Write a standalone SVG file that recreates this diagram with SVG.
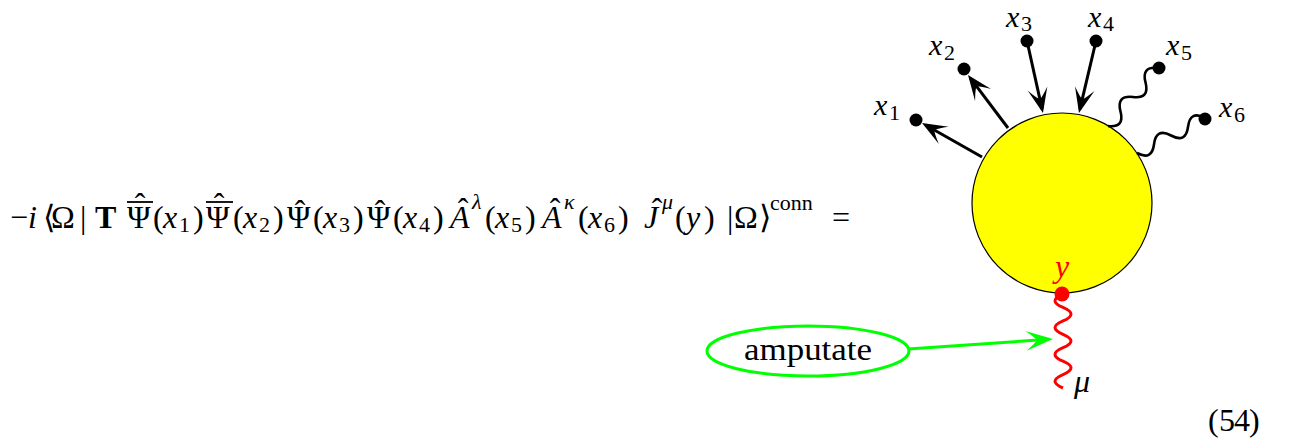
<svg xmlns="http://www.w3.org/2000/svg" width="1292" height="443" viewBox="0 0 1292 443">
<style>
.m{font-family:"Liberation Serif","Times New Roman",serif;font-size:32px;fill:#000}
.lb{font-size:30px}
.it{font-style:italic}
.s{font-size:22px}
.fl{stroke:#000;stroke-width:3;fill:none}
.wv{stroke:#000;stroke-width:2.6;fill:none}
.dot{fill:#000}
</style>
<defs>
<marker id="ab" markerUnits="userSpaceOnUse" orient="auto" refX="0" refY="0" markerWidth="30" markerHeight="30" overflow="visible">
<path d="M4,0 L-21,-10 Q-12,-3 -10,0 Q-12,3 -21,10 Z" fill="#000"/>
</marker>
<marker id="ag" markerUnits="userSpaceOnUse" orient="auto" refX="0" refY="0" markerWidth="30" markerHeight="30" overflow="visible">
<path d="M4,0 L-23,-10 Q-14,-3 -12,0 Q-14,3 -23,10 Z" fill="#00ff00"/>
</marker>
</defs>

<g id="equation">
<text class="m" y="228">
<tspan x="10">−</tspan><tspan x="28" class="it">i</tspan><tspan x="43 51 80">⟨Ω|</tspan><tspan x="95" font-weight="bold">T</tspan><tspan x="127">Ψ</tspan><tspan x="153">(</tspan><tspan x="163" class="it">x</tspan><tspan x="179" y="232" class="s">1</tspan><tspan x="193" y="228">)</tspan><tspan x="206">Ψ</tspan><tspan x="233">(</tspan><tspan x="243" class="it">x</tspan><tspan x="259" y="232" class="s">2</tspan><tspan x="273" y="228">)</tspan><tspan x="287">Ψ</tspan><tspan x="313">(</tspan><tspan x="323" class="it">x</tspan><tspan x="339" y="232" class="s">3</tspan><tspan x="353" y="228">)</tspan><tspan x="367">Ψ</tspan><tspan x="393">(</tspan><tspan x="403" class="it">x</tspan><tspan x="419" y="232" class="s">4</tspan><tspan x="433" y="228">)</tspan><tspan x="450" class="it">A</tspan><tspan x="472" y="209" class="s it">λ</tspan><tspan x="485" y="228">(</tspan><tspan x="495" class="it">x</tspan><tspan x="511" y="232" class="s">5</tspan><tspan x="525" y="228">)</tspan><tspan x="542" class="it">A</tspan><tspan x="564" y="209" class="s it">κ</tspan><tspan x="578" y="228">(</tspan><tspan x="588" class="it">x</tspan><tspan x="604" y="232" class="s">6</tspan><tspan x="618" y="228">)</tspan><tspan x="644" class="it">J</tspan><tspan x="662" y="209" class="s it">μ</tspan><tspan x="675" y="228">(</tspan><tspan x="686" class="it">y</tspan><tspan x="704">)</tspan><tspan x="727 734 759">|Ω⟩</tspan><tspan x="770" y="210" class="s">conn</tspan><tspan x="832" y="228">=</tspan>
</text>
<line x1="127" y1="202" x2="153" y2="202" stroke="#000" stroke-width="1.8"/>
<line x1="206" y1="202" x2="233" y2="202" stroke="#000" stroke-width="1.8"/>
<text class="m" text-anchor="middle" y="215"><tspan x="140">ˆ</tspan><tspan x="219">ˆ</tspan></text>
<text class="m" text-anchor="middle" y="222"><tspan x="300">ˆ</tspan><tspan x="380">ˆ</tspan></text>
<text class="m" text-anchor="middle" y="220"><tspan x="463">ˆ</tspan><tspan x="555">ˆ</tspan><tspan x="657">ˆ</tspan></text>
</g>

<g id="blob">
<circle cx="1062" cy="203" r="90" fill="#ffff00" stroke="#000" stroke-width="1.2"/>
</g>

<g id="connectors">
<line class="fl" x1="982" y1="157" x2="925.5" y2="125" marker-end="url(#ab)"/>
<line class="fl" x1="1008" y1="128" x2="970.4" y2="78.2" marker-end="url(#ab)"/>
<line class="fl" x1="1027" y1="41" x2="1042.1" y2="109.1" marker-end="url(#ab)"/>
<line class="fl" x1="1096" y1="41" x2="1079.9" y2="109.1" marker-end="url(#ab)"/>
<path class="wv" transform="translate(1108,126) rotate(-49.2)" d="M0,0 Q9.57,14 19.15,0 T38.3,0 T57.45,0 T76.6,0"/>
<path class="wv" transform="translate(1137,153) rotate(-27.2)" d="M0,0 Q9.56,14 19.13,0 T38.25,0 T57.38,0 T76.5,0"/>
<path transform="translate(1063,294) rotate(90)" fill="none" stroke="#ff0000" stroke-width="3" d="M0,0 Q6.71,16 13.43,0 T26.86,0 T40.29,0 T53.71,0 T67.14,0 T80.57,0 T94,0"/>
<line x1="908" y1="349" x2="1049" y2="339.3" stroke="#00ff00" stroke-width="3" marker-end="url(#ag)"/>
</g>

<g id="x1"><circle class="dot" cx="916" cy="120" r="6.5"/><text class="m lb" y="115"><tspan x="874" class="it">x</tspan><tspan x="889" y="120" class="s">1</tspan></text></g>
<g id="x2"><circle class="dot" cx="964" cy="69" r="6.5"/><text class="m lb" y="55"><tspan x="929" class="it">x</tspan><tspan x="944" y="60" class="s">2</tspan></text></g>
<g id="x3"><circle class="dot" cx="1027" cy="41" r="6.5"/><text class="m lb" y="27"><tspan x="1006" class="it">x</tspan><tspan x="1021" y="31" class="s">3</tspan></text></g>
<g id="x4"><circle class="dot" cx="1096" cy="41" r="6.5"/><text class="m lb" y="27"><tspan x="1088" class="it">x</tspan><tspan x="1103" y="31" class="s">4</tspan></text></g>
<g id="x5"><circle class="dot" cx="1159" cy="68" r="6.5"/><text class="m lb" y="55"><tspan x="1166" class="it">x</tspan><tspan x="1181" y="60" class="s">5</tspan></text></g>
<g id="x6"><circle class="dot" cx="1205" cy="119" r="6.5"/><text class="m lb" y="117"><tspan x="1219" class="it">x</tspan><tspan x="1234" y="122" class="s">6</tspan></text></g>

<g id="y">
<circle cx="1062" cy="294" r="7.5" fill="#ff0000"/>
<text class="m it" x="1062" y="277" text-anchor="middle" style="fill:#ff0000">y</text>
</g>
<g id="mu"><text class="m it" x="1074" y="392">μ</text></g>

<g id="amputate">
<ellipse cx="808" cy="351" rx="101" ry="25" fill="none" stroke="#00ff00" stroke-width="3"/>
<text class="m" x="808" y="360" text-anchor="middle" textLength="128" lengthAdjust="spacingAndGlyphs">amputate</text>
</g>

<g id="eqnum"><text class="m" y="431"><tspan x="1208 1219 1234 1249">(54)</tspan></text></g>
</svg>
